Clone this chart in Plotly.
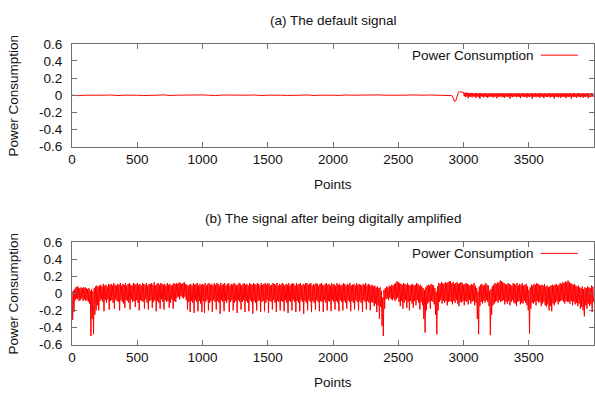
import plotly.graph_objects as go

# ---------------- data ----------------
# (a) default signal: flat part sampled every 50 points (0..2900)
a_flat = [0, -0.005, 0, 0.003, 0.004, 0, 0.002, -0.004, 0, 0.003,
          0, -0.004, 0.002, 0, 0.004, -0.003, 0, 0.002, -0.004, 0,
          0.003, 0, -0.004, 0.002, 0, 0.003, -0.003, 0, 0.002, -0.004,
          0, 0.003, 0, -0.003, 0.002, 0, 0.003, -0.003, 0, 0.002,
          0, -0.003, 0.003, 0, 0.002, -0.002, 0, 0.003, 0, -0.002,
          0.002, 0, 0.003, -0.002, 0, 0.002, 0, -0.002, 0]
a_flat_step = 50
# (a) transition 2910..2990, every 10 points
a_step_start = 2910
a_step_vals = [-0.005, -0.03, -0.075, -0.065, -0.02, 0.035, 0.04, 0.035, 0.035]
# (a) noisy tail 3000..3990: highest / lowest reading in each 10-point window
a_tail_start = 3000
a_tail_hi = [0.032, 0.03, 0.028, 0.03, 0.025, 0.027, 0.024, 0.026, 0.022, 0.025,
             0.024, 0.02, 0.026, 0.022, 0.024, 0.02, 0.025, 0.021, 0.023, 0.02,
             0.022, 0.025, 0.02, 0.024, 0.021, 0.023, 0.02, 0.025, 0.022, 0.02,
             0.024, 0.021, 0.023, 0.02, 0.025, 0.022, 0.02, 0.024, 0.021, 0.023,
             0.02, 0.024, 0.021, 0.023, 0.02, 0.025, 0.022, 0.02, 0.024, 0.021,
             0.023, 0.02, 0.025, 0.021, 0.022, 0.024, 0.02, 0.023, 0.021, 0.025,
             0.022, 0.02, 0.024, 0.021, 0.023, 0.02, 0.025, 0.022, 0.02, 0.024,
             0.021, 0.023, 0.02, 0.024, 0.022, 0.02, 0.025, 0.021, 0.023, 0.02,
             0.024, 0.021, 0.022, 0.02, 0.025, 0.023, 0.02, 0.024, 0.021, 0.022,
             0.02, 0.024, 0.021, 0.023, 0.02, 0.025, 0.022, 0.02, 0.023, 0.021]
a_tail_lo = [-0.012, -0.02, -0.015, -0.035, -0.014, -0.018, -0.025, -0.012, -0.02, -0.03,
             -0.015, -0.022, -0.04, -0.013, -0.018, -0.025, -0.014, -0.02, -0.03, -0.016,
             -0.02, -0.013, -0.028, -0.018, -0.015, -0.035, -0.016, -0.02, -0.013, -0.025,
             -0.018, -0.03, -0.014, -0.02, -0.016, -0.04, -0.015, -0.022, -0.018, -0.014,
             -0.025, -0.016, -0.02, -0.035, -0.014, -0.018, -0.022, -0.015, -0.03, -0.017,
             -0.02, -0.014, -0.04, -0.018, -0.016, -0.025, -0.015, -0.02, -0.03, -0.016,
             -0.018, -0.035, -0.015, -0.02, -0.022, -0.014, -0.028, -0.017, -0.02, -0.04,
             -0.016, -0.02, -0.025, -0.015, -0.03, -0.018, -0.016, -0.022, -0.035, -0.015,
             -0.02, -0.017, -0.04, -0.015, -0.022, -0.018, -0.03, -0.016, -0.02, -0.025,
             -0.015, -0.03, -0.018, -0.02, -0.016, -0.035, -0.018, -0.022, -0.015, -0.02]

# (b) amplified signal: highest / lowest reading in each 10-point window (hundredths)
b_hi = [
    2, 3, 5, 7, 8, 7, 6, 7, 6, 7,
    7, 6, 5, 6, 3, 5, 2, 6, 8, 9,
    8, 9, 10, 8, 11, 9, 10, 8, 11, 10,
    11, 9, 12, 10, 9, 11, 10, 12, 9, 11,
    10, 12, 9, 11, 12, 10, 9, 12, 11, 10,
    12, 10, 11, 9, 12, 11, 10, 12, 9, 11,
    11, 12, 10, 13, 9, 11, 12, 10, 12, 11,
    10, 11, 9, 12, 10, 11, 9, 10, 12, 11,
    12, 11, 13, 12, 11, 12, 13, 11, 10, 9,
    10, 11, 9, 12, 10, 11, 12, 9, 11, 10,
    11, 10, 12, 9, 11, 12, 10, 11, 9, 12,
    10, 12, 11, 9, 12, 10, 11, 12, 9, 11,
    12, 9, 11, 10, 12, 11, 9, 10, 12, 11,
    9, 11, 12, 10, 11, 9, 12, 11, 10, 12,
    11, 10, 12, 11, 9, 12, 10, 11, 12, 10,
    12, 11, 9, 10, 12, 11, 10, 12, 9, 11,
    10, 12, 11, 9, 11, 10, 12, 9, 11, 12,
    11, 9, 12, 10, 11, 12, 9, 11, 10, 12,
    12, 10, 11, 12, 9, 11, 10, 12, 11, 9,
    11, 12, 10, 9, 11, 12, 10, 11, 9, 12,
    10, 11, 9, 12, 10, 11, 9, 10, 12, 11,
    9, 11, 10, 12, 9, 10, 11, 9, 12, 10,
    11, 10, 9, 11, 10, 12, 9, 11, 10, 9,
    10, 8, 9, 7, 8, 6, 7, 3, -5, 4,
    6, 8, 7, 9, 8, 10, 9, 11, 12, 14,
    13, 12, 11, 10, 12, 11, 10, 12, 10, 9,
    10, 11, 9, 10, 12, 11, 9, 10, 8, 6,
    4, 7, 9, 10, 9, 11, 10, 9, 6, 2,
    8, 12, 11, 13, 12, 11, 13, 12, 13, 14,
    14, 12, 13, 11, 12, 13, 11, 12, 13, 12,
    10, 11, 12, 11, 10, 9, 11, 10, 12, 9,
    6, 2, 8, 10, 11, 9, 10, 12, 10, 9,
    3, 5, 8, 10, 12, 11, 13, 12, 15, 14,
    13, 12, 11, 10, 12, 11, 10, 9, 12, 11,
    10, 12, 9, 11, 10, 12, 9, 10, 11, 8,
    4, 7, 10, 9, 11, 10, 12, 11, 10, 9,
    10, 9, 11, 8, 9, 7, 8, 9, 10, 9,
    10, 11, 9, 10, 12, 11, 13, 12, 14, 13,
    15, 13, 12, 11, 10, 11, 9, 8, 9, 7,
    6, 8, 5, 7, 6, 8, 7, 6, 9, 8,
]
b_lo = [
    -31, -22, -8, -6, -7, -9, -8, -6, -9, -7,
    -9, -8, -10, -12, -50, -30, -48, -25, -20, -14,
    -20, -9, -7, -10, -21, -8, -11, -7, -19, -9,
    -8, -11, -18, -7, -9, -10, -20, -8, -10, -12,
    -17, -8, -9, -11, -19, -7, -10, -9, -16, -8,
    -11, -20, -8, -9, -10, -18, -7, -11, -19, -9,
    -8, -17, -10, -8, -21, -9, -11, -18, -7, -10,
    -19, -8, -10, -9, -17, -11, -7, -18, -9, -10,
    -5, -4, -7, -3, -5, -6, -4, -8, -19, -10,
    -22, -9, -11, -23, -8, -10, -21, -9, -12, -22,
    -9, -23, -10, -8, -20, -11, -9, -22, -8, -10,
    -19, -9, -11, -24, -8, -10, -21, -9, -11, -8,
    -22, -10, -8, -20, -11, -9, -23, -8, -10, -19,
    -10, -8, -22, -9, -11, -21, -8, -10, -24, -9,
    -11, -20, -9, -8, -22, -10, -9, -21, -11, -8,
    -23, -9, -10, -19, -8, -11, -22, -9, -10, -20,
    -9, -10, -21, -8, -11, -23, -9, -10, -20, -8,
    -10, -22, -9, -11, -21, -8, -10, -24, -9, -11,
    -20, -8, -10, -22, -9, -11, -19, -8, -10, -21,
    -9, -10, -22, -8, -11, -20, -9, -10, -21, -8,
    -10, -19, -9, -11, -21, -8, -10, -20, -9, -11,
    -18, -8, -10, -21, -9, -11, -19, -8, -10, -20,
    -9, -11, -22, -8, -10, -19, -9, -11, -20, -10,
    -11, -15, -12, -22, -14, -30, -16, -38, -50, -18,
    -7, -6, -8, -5, -7, -8, -6, -9, -7, -5,
    -10, -15, -9, -18, -11, -8, -17, -10, -20, -9,
    -12, -17, -9, -14, -8, -11, -19, -10, -14, -30,
    -46, -20, -12, -10, -18, -9, -10, -13, -25, -48,
    -20, -10, -8, -12, -9, -11, -9, -14, -10, -9,
    -10, -13, -9, -11, -8, -12, -15, -10, -11, -9,
    -14, -9, -10, -13, -8, -12, -10, -9, -14, -11,
    -30, -48, -15, -10, -12, -9, -11, -8, -10, -15,
    -49, -25, -14, -12, -10, -9, -11, -8, -10, -9,
    -8, -13, -10, -12, -9, -14, -10, -8, -11, -12,
    -15, -10, -9, -13, -11, -12, -9, -11, -14, -20,
    -47, -18, -11, -12, -10, -14, -9, -11, -10, -15,
    -12, -10, -14, -16, -13, -20, -15, -21, -12, -14,
    -11, -9, -13, -10, -9, -8, -10, -12, -9, -10,
    -10, -12, -9, -14, -10, -13, -11, -15, -12, -18,
    -16, -20, -27, -14, -18, -12, -15, -13, -22, -10,
]
window = 10  # points per reading window

x_tickvals = [0, 500, 1000, 1500, 2000, 2500, 3000, 3500]
x_ticktext = ["0", "500", "1000", "1500", "2000", "2500", "3000", "3500"]
y_tickvals = [-0.6, -0.4, -0.2, 0, 0.2, 0.4, 0.6]
y_ticktext = ["-0.6", "-0.4", "-0.2", "0", "0.2", "0.4", "0.6"]

titles = ["(a) The default signal", "(b) The signal after being digitally amplified"]
series_name = "Power Consumption"
x_title = "Points"
y_title = "Power Consumption"


# ---------------- build series ----------------
def interleave(start, hi, lo, scale=1.0):
    xs, ys = [], []
    for i, (h, l) in enumerate(zip(hi, lo)):
        xs += [start + i * window, start + i * window + window / 2]
        ys += [h * scale, l * scale]
    return xs, ys


a_x = [i * a_flat_step for i in range(len(a_flat))] + \
      [a_step_start + i * window for i in range(len(a_step_vals))]
a_y = a_flat + a_step_vals
tx, ty = interleave(a_tail_start, a_tail_hi, a_tail_lo)
a_x += tx
a_y += ty
b_x, b_y = interleave(0, b_hi, b_lo, 0.01)

RED = "#ff0000"
FONT = "Liberation Sans, Arial, sans-serif"
FS = 13.5
AX = "#707070"
TXT = "#111111"

fig = go.Figure()
fig.add_trace(go.Scatter(x=a_x, y=a_y, mode="lines", line=dict(color=RED, width=1),
                         name=series_name, xaxis="x", yaxis="y", showlegend=False))
fig.add_trace(go.Scatter(x=b_x, y=b_y, mode="lines", line=dict(color=RED, width=1),
                         name=series_name, xaxis="x2", yaxis="y2", showlegend=False))

W, H = 595, 399
L = 72.3
top_dom = [(H - 145.0) / H, (H - 38.3) / H]
bot_dom = [(H - 350.7) / H, (H - 244.3) / H]

common_x = dict(range=[0, 3999], tickvals=x_tickvals, ticktext=x_ticktext,
                ticks="inside", ticklen=5, tickcolor=AX, showline=True, linecolor=AX,
                linewidth=1, mirror="ticks", showgrid=False, zeroline=False,
                tickfont=dict(family=FONT, size=FS, color=TXT), domain=[0, 1])
common_y = dict(range=[-0.6, 0.6], tickvals=y_tickvals, ticktext=y_ticktext,
                ticks="inside", ticklen=5, tickcolor=AX, showline=True, linecolor=AX,
                linewidth=1, mirror="ticks", showgrid=False, zeroline=False,
                ticklabelstandoff=6,
                tickfont=dict(family=FONT, size=FS, color=TXT))

fig.update_layout(
    width=W, height=H, autosize=False,
    margin=dict(l=L, r=0, t=0, b=0, pad=0),
    paper_bgcolor="white", plot_bgcolor="white",
    font=dict(family=FONT, size=FS, color=TXT),
    showlegend=False,
    xaxis=dict(common_x, anchor="y"),
    yaxis=dict(common_y, domain=top_dom, anchor="x"),
    xaxis2=dict(common_x, anchor="y2"),
    yaxis2=dict(common_y, domain=bot_dom, anchor="x2"),
)

anns = []
shapes = []
for i, (xr, yr, dom) in enumerate([("x", "y", top_dom), ("x2", "y2", bot_dom)]):
    top_px = H - dom[1] * H
    bot_px = H - dom[0] * H
    anns.append(dict(text=titles[i], xref=xr + " domain", yref="paper", x=0.5,
                     y=1 - (top_px - 24.3) / H, xanchor="center", yanchor="middle",
                     showarrow=False, font=dict(family=FONT, size=FS, color=TXT)))
    anns.append(dict(text=x_title, xref=xr + " domain", yref="paper", x=0.5,
                     y=1 - (bot_px + 39.5) / H, xanchor="center", yanchor="middle",
                     showarrow=False, font=dict(family=FONT, size=FS, color=TXT)))
    anns.append(dict(text=y_title, xref="paper", yref=yr + " domain", x=(13.5 - L) / (W - L),
                     y=0.5, xanchor="center", yanchor="middle", textangle=-90,
                     showarrow=False, font=dict(family=FONT, size=FS, color=TXT)))
    anns.append(dict(text=series_name, xref=xr + " domain", yref=yr + " domain",
                     x=0.889, y=0.89, xanchor="right", yanchor="middle",
                     showarrow=False, font=dict(family=FONT, size=FS, color=TXT)))
    shapes.append(dict(type="line", xref=xr + " domain", yref=yr + " domain",
                       x0=0.898, x1=0.969, y0=0.89, y1=0.89,
                       line=dict(color=RED, width=1)))

fig.update_layout(annotations=anns, shapes=shapes)
fig.write_html("out.html")
